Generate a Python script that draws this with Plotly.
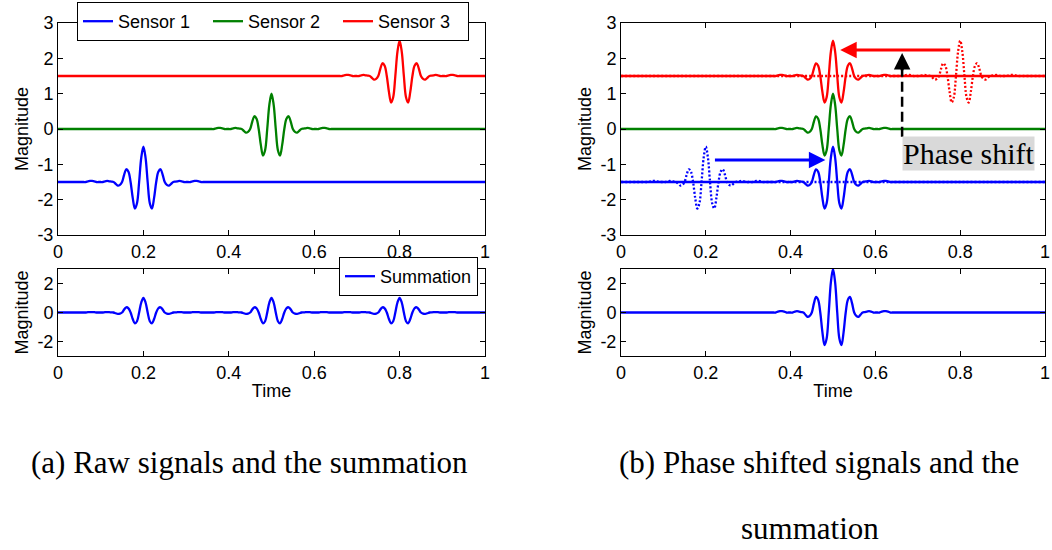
import numpy as np
import plotly.graph_objects as go

# ---------------- data ----------------
# wavelet template: time offsets from the wavelet centre and magnitudes
WAVE_T = [-0.140, -0.135, -0.130, -0.125, -0.120, -0.115, -0.110, -0.105, -0.100, -0.095,
          -0.090, -0.085, -0.080, -0.075, -0.070, -0.065, -0.060, -0.055, -0.050, -0.045,
          -0.040, -0.035, -0.030, -0.025, -0.020, -0.015, -0.010, -0.005, 0.000, 0.005,
          0.010, 0.015, 0.020, 0.025, 0.030, 0.035, 0.040, 0.045, 0.050, 0.055,
          0.060, 0.065, 0.070, 0.075, 0.080, 0.085, 0.090, 0.095, 0.100, 0.105,
          0.110, 0.115, 0.120, 0.125, 0.130, 0.135, 0.140]
WAVE_V = [0.00, 0.00, 0.02, 0.03, 0.03, 0.02, 0.00, 0.00, 0.00, 0.00,
          0.02, 0.03, 0.02, 0.01, 0.00, -0.05, -0.10, -0.08, 0.00, 0.21,
          0.36, 0.29, 0.00, -0.45, -0.75, -0.60, 0.00, 0.69, 1.00, 0.69,
          0.00, -0.60, -0.75, -0.45, 0.00, 0.29, 0.36, 0.21, 0.00, -0.08,
          -0.10, -0.05, 0.00, 0.01, 0.02, 0.03, 0.02, 0.00, 0.00, 0.00,
          0.00, 0.02, 0.03, 0.03, 0.02, 0.00, 0.00]

SENSOR_NAMES = ["Sensor 1", "Sensor 2", "Sensor 3"]
SENSOR_COLORS = ["#0000ff", "#008000", "#ff0000"]
SENSOR_OFFSETS = [-1.5, 0.0, 1.5]      # vertical offsets of the displayed traces
RAW_CENTERS = [0.2, 0.5, 0.8]          # arrival times of the raw signals
SHIFTED_CENTER = 0.5                   # arrival time after phase shift

T_START, T_END = 0.0, 1.0
X_TICKS = [0, 0.2, 0.4, 0.6, 0.8, 1]
X_TICK_LABELS = ["0", "0.2", "0.4", "0.6", "0.8", "1"]
Y_TICKS_TOP = [-3, -2, -1, 0, 1, 2, 3]
Y_TICK_LABELS_TOP = ["-3", "-2", "-1", "0", "1", "2", "3"]
Y_TICKS_BOTTOM = [-2, 0, 2]
Y_TICK_LABELS_BOTTOM = ["-2", "0", "2"]

CAPTION_A = "(a) Raw signals and the summation"
CAPTION_B1 = "(b) Phase shifted signals and the"
CAPTION_B2 = "summation"

SANS = "Liberation Sans, Arial, sans-serif"
SERIF = "Liberation Serif, Times New Roman, serif"
FS = 18


def signal(center):
    x = [T_START] + [center + t for t in WAVE_T] + [T_END]
    y = [0.0] + list(WAVE_V) + [0.0]
    return np.array(x), np.array(y)


def summation(centers):
    sigs = [signal(c) for c in centers]
    grid = np.unique(np.concatenate([s[0] for s in sigs]))
    total = np.zeros_like(grid)
    for sx, sy in sigs:
        total += np.interp(grid, sx, sy)
    return grid, total


fig = go.Figure()
LW = 2.3

# ---- (a) raw signals ----
for name, col, off, c in zip(SENSOR_NAMES, SENSOR_COLORS, SENSOR_OFFSETS, RAW_CENTERS):
    x, y = signal(c)
    fig.add_trace(go.Scatter(x=x, y=y + off, mode="lines", name=name,
                             line=dict(color=col, width=LW, shape="spline"),
                             xaxis="x", yaxis="y", legend="legend"))

sx, sy = summation(RAW_CENTERS)
fig.add_trace(go.Scatter(x=sx, y=sy, mode="lines", name="Summation",
                         line=dict(color="#0000ff", width=LW, shape="spline"),
                         xaxis="x2", yaxis="y2", legend="legend2"))

# ---- (b) phase shifted signals ----
for name, col, off in zip(SENSOR_NAMES, SENSOR_COLORS, SENSOR_OFFSETS):
    x, y = signal(SHIFTED_CENTER)
    fig.add_trace(go.Scatter(x=x, y=y + off, mode="lines", name=name, showlegend=False,
                             line=dict(color=col, width=LW, shape="spline"),
                             xaxis="x3", yaxis="y3"))
for name, col, off, c in zip(SENSOR_NAMES, SENSOR_COLORS, SENSOR_OFFSETS, RAW_CENTERS):
    if c == SHIFTED_CENTER:
        continue
    x, y = signal(c)
    fig.add_trace(go.Scatter(x=x, y=y + off, mode="lines", name=name + " (raw)", showlegend=False,
                             line=dict(color=col, width=LW, dash="2px,2px", shape="spline"),
                             xaxis="x3", yaxis="y3"))

bx, by = summation([SHIFTED_CENTER] * 3)
fig.add_trace(go.Scatter(x=bx, y=by, mode="lines", name="Summation", showlegend=False,
                         line=dict(color="#0000ff", width=LW, shape="spline"),
                         xaxis="x4", yaxis="y4"))

# ---------------- layout ----------------
W, H = 1052, 550


def px_x(p):
    return p / W


def px_y(p):
    return 1 - p / H


common = dict(showline=True, linecolor="black", linewidth=1, mirror="ticks",
              ticks="inside", ticklen=5, tickcolor="black", showgrid=False,
              zeroline=False, automargin=False, ticklabeloverflow="allow",
              tickfont=dict(family=SANS, size=FS, color="black"))
title_font = dict(family=SANS, size=FS, color="black")
xt = dict(range=[T_START, T_END], tickvals=X_TICKS, ticktext=X_TICK_LABELS)
yt_top = dict(range=[-3, 3], tickvals=Y_TICKS_TOP, ticktext=Y_TICK_LABELS_TOP)
yt_bot = dict(range=[-3, 3], tickvals=Y_TICKS_BOTTOM, ticktext=Y_TICK_LABELS_BOTTOM)
ytitle = dict(text="Magnitude", font=title_font, standoff=4)
xtitle = dict(text="Time", font=title_font, standoff=2)

left_dom = [px_x(58), px_x(485)]
right_dom = [px_x(621), px_x(1045)]
top_dom = [px_y(235), px_y(23)]
bot_dom = [px_y(356), px_y(269)]

fig.update_layout(
    width=W, height=H, margin=dict(l=0, r=0, t=0, b=0, autoexpand=False),
    paper_bgcolor="white", plot_bgcolor="white",
    font=dict(family=SANS, size=FS, color="black"),
    xaxis=dict(domain=left_dom, anchor="y", **xt, **common),
    yaxis=dict(domain=top_dom, anchor="x", title=ytitle, **yt_top, **common),
    xaxis2=dict(domain=left_dom, anchor="y2", title=xtitle, **xt, **common),
    yaxis2=dict(domain=bot_dom, anchor="x2", title=ytitle, **yt_bot, **common),
    xaxis3=dict(domain=right_dom, anchor="y3", **xt, **common),
    yaxis3=dict(domain=top_dom, anchor="x3", title=ytitle, **yt_top, **common),
    xaxis4=dict(domain=right_dom, anchor="y4", title=xtitle, **xt, **common),
    yaxis4=dict(domain=bot_dom, anchor="x4", title=ytitle, **yt_bot, **common),
    legend=dict(orientation="h", x=px_x(77), xanchor="left", y=px_y(2), yanchor="top",
                bgcolor="white", bordercolor="black", borderwidth=1,
                font=dict(family=SANS, size=FS, color="black"),
                entrywidth=85, entrywidthmode="pixels"),
    legend2=dict(orientation="h", x=px_x(478), xanchor="right", y=px_y(257), yanchor="top",
                 bgcolor="white", bordercolor="black", borderwidth=1,
                 font=dict(family=SANS, size=FS, color="black")),
    showlegend=True,
)

# arrows (panel b)
arrow_y_red = 2.235
arrow_y_blue = -0.88
fig.add_annotation(x=0.517, y=arrow_y_red, ax=0.78, ay=arrow_y_red, xref="x3", yref="y3",
                   axref="x3", ayref="y3", text="", showarrow=True, arrowhead=2,
                   arrowsize=1.1, arrowwidth=3, arrowcolor="#ff0000")
fig.add_annotation(x=0.482, y=arrow_y_blue, ax=0.218, ay=arrow_y_blue, xref="x3", yref="y3",
                   axref="x3", ayref="y3", text="", showarrow=True, arrowhead=2,
                   arrowsize=1.1, arrowwidth=3, arrowcolor="#0000ff")
fig.add_shape(type="line", x0=0.663, x1=0.663, y0=-0.22, y1=1.7, xref="x3", yref="y3",
              line=dict(color="black", width=2.5, dash="10px,5px"))
fig.add_annotation(x=0.663, y=2.15, ax=0.663, ay=1.62, xref="x3", yref="y3",
                   axref="x3", ayref="y3", text="", showarrow=True, arrowhead=2,
                   arrowsize=1.1, arrowwidth=3, arrowcolor="black")
fig.add_annotation(x=0.82, y=-0.70, xref="x3", yref="y3", text="Phase shift",
                   xanchor="center", yanchor="middle",
                   showarrow=False, bgcolor="#d9d9d9", borderpad=0,
                   font=dict(family=SERIF, size=30, color="black"))

# captions
cap_font = dict(family=SERIF, size=31, color="black")
fig.add_annotation(x=px_x(249), y=px_y(462), xref="paper", yref="paper", text=CAPTION_A,
                   xanchor="center", yanchor="middle", showarrow=False, font=cap_font)
fig.add_annotation(x=px_x(819), y=px_y(462), xref="paper", yref="paper", text=CAPTION_B1,
                   xanchor="center", yanchor="middle", showarrow=False, font=cap_font)
fig.add_annotation(x=px_x(810), y=px_y(528), xref="paper", yref="paper", text=CAPTION_B2,
                   xanchor="center", yanchor="middle", showarrow=False, font=cap_font)

fig.write_html("out.html")
